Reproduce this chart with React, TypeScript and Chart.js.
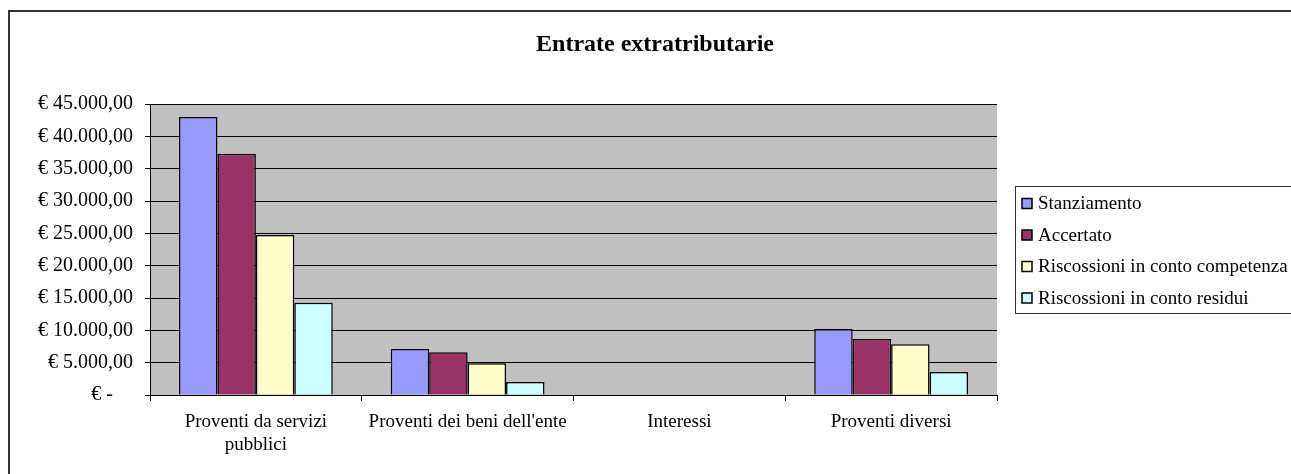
import React, { useEffect, useRef } from "react";
import { Chart, registerables } from "chart.js";

Chart.register(...registerables);

const TITLE = "Entrate extratributarie";
const categories: (string | string[])[] = [
  ["Proventi da servizi", "pubblici"],
  "Proventi dei beni dell'ente",
  "Interessi",
  "Proventi diversi",
];
const seriesNames = [
  "Stanziamento",
  "Accertato",
  "Riscossioni in conto competenza",
  "Riscossioni in conto residui",
];
const stanziamento = [43000, 7100, 0, 10200];
const accertato = [37300, 6600, 0, 8650];
const competenza = [24750, 4900, 0, 7850];
const residui = [14250, 2000, 0, 3550];
const colors = ["#9999FF", "#993366", "#FFFFCC", "#CCFFFF"];
const yMax = 45000;
const yStep = 5000;

const FONT = "'Liberation Serif', 'Times New Roman', serif";

function fmtEuro(v: number): string {
  if (v === 0) return "€ -\u00a0\u00a0\u00a0\u00a0";
  const s = Math.round(v).toString().replace(/\B(?=(\d{3})+(?!\d))/g, ".");
  return "€ " + s + ",00";
}

const decorPlugin = {
  id: "decor",
  beforeDraw(chart: any) {
    const { ctx, chartArea } = chart;
    ctx.save();
    ctx.fillStyle = "#C0C0C0";
    ctx.fillRect(chartArea.left, chartArea.top, chartArea.right - chartArea.left, chartArea.bottom - chartArea.top);
    ctx.restore();
  },
  afterDraw(chart: any) {
    const { ctx } = chart;
    ctx.save();
    // outer frame
    ctx.strokeStyle = "#333";
    ctx.lineWidth = 2;
    ctx.strokeRect(9, 11, 1400, 600);
    // title
    ctx.fillStyle = "#000";
    ctx.font = `bold 24px ${FONT}`;
    ctx.textAlign = "center";
    ctx.textBaseline = "middle";
    ctx.fillText(TITLE, 655, 45);
    // legend
    const lx = 1015, ly = 186, lh = 127;
    ctx.strokeStyle = "#333";
    ctx.lineWidth = 1;
    ctx.strokeRect(lx + 0.5, ly + 0.5, 400, lh);
    ctx.font = `19px ${FONT}`;
    ctx.textAlign = "left";
    chart.data.datasets.forEach((ds: any, i: number) => {
      const cy = 203.5 + i * 31.5;
      ctx.fillStyle = ds.backgroundColor;
      ctx.fillRect(1022, cy - 5, 10, 10);
      ctx.strokeStyle = "#000";
      ctx.lineWidth = 1.5;
      ctx.strokeRect(1022, cy - 5, 10, 10);
      ctx.fillStyle = "#000";
      ctx.fillText(ds.label, 1038, cy + 1);
    });
    ctx.restore();
  },
};

export default function App() {
  const ref = useRef<HTMLCanvasElement>(null);
  useEffect(() => {
    if (!ref.current) return;
    const seriesData = [stanziamento, accertato, competenza, residui];
    const chart = new Chart(ref.current, {
      type: "bar",
      data: {
        labels: categories,
        datasets: seriesNames.map((name, i) => ({
          label: name,
          data: seriesData[i],
          backgroundColor: colors[i],
          borderColor: "#000",
          borderWidth: 1.5,
          categoryPercentage: 0.726,
          barPercentage: 1,
        })),
      },
      options: {
        responsive: false,
        animation: false,
        devicePixelRatio: 1,
        layout: { padding: { left: 20, right: 294, top: 104, bottom: 0 } },
        plugins: {
          legend: { display: false },
          title: { display: false },
          tooltip: { enabled: false },
        },
        scales: {
          x: {
            grid: {
              display: true,
              drawOnChartArea: false,
              drawTicks: true,
              tickLength: 6,
              color: "#000",
              offset: true,
            },
            border: { display: true, color: "#000", width: 1 },
            ticks: {
              color: "#000",
              font: { family: FONT, size: 19 },
              padding: 10,
              maxRotation: 0,
              autoSkip: false,
            },
            afterFit: (s: any) => {
              s.height = 79;
            },
          },
          y: {
            min: 0,
            max: yMax,
            grid: { color: "#000", lineWidth: 1, tickLength: 5, drawTicks: true },
            border: { display: true, color: "#000", width: 1 },
            ticks: {
              stepSize: yStep,
              color: "#000",
              font: { family: FONT, size: 20 },
              padding: 12,
              callback: (v: any) => fmtEuro(Number(v)),
            },
            afterFit: (s: any) => {
              s.width = 130;
            },
          },
        },
      },
      plugins: [decorPlugin],
    });
    return () => chart.destroy();
  }, []);
  return (
    <div style={{ position: "fixed", left: 0, top: 0, width: 1291, height: 474, background: "#fff" }}>
      <canvas ref={ref} width={1291} height={474} style={{ width: 1291, height: 474, display: "block" }} />
    </div>
  );
}
